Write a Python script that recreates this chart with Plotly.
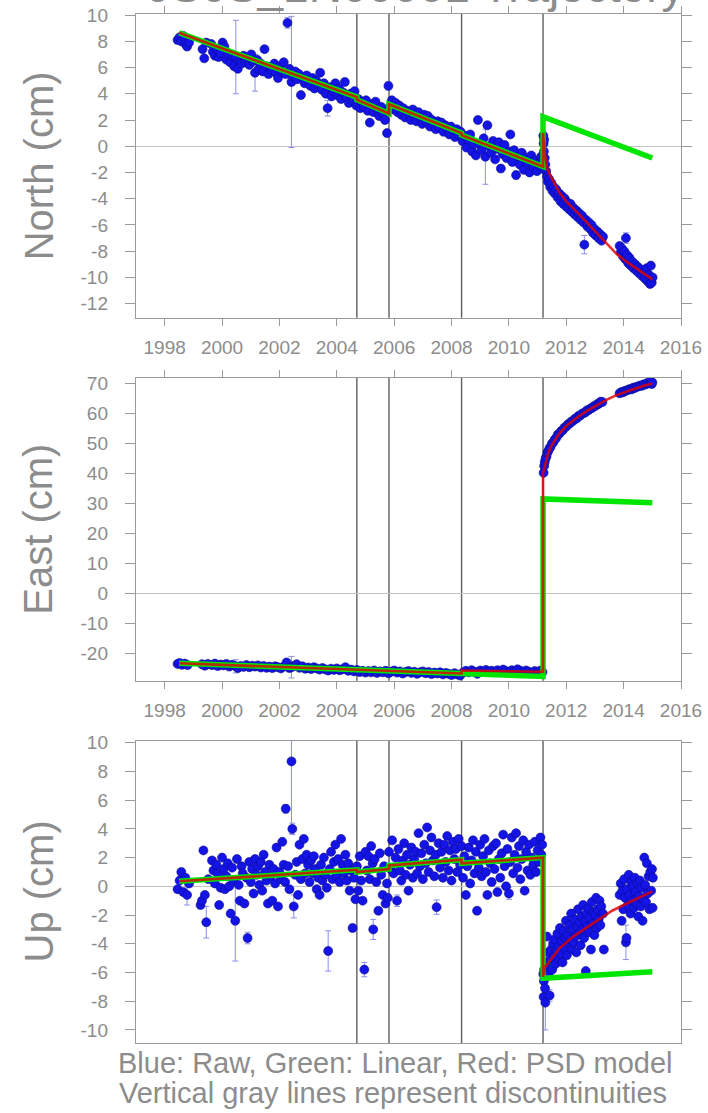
import plotly.graph_objects as go

# ---------------- data ----------------
years = [1998, 2000, 2002, 2004, 2006, 2008, 2010, 2012, 2014, 2016]
discontinuities = [2004.70, 2005.82, 2008.35, 2011.19]

north_obs = [
    (1998.45, 8.1), (1998.52, 8.3), (1998.58, 8.0), (1998.65, 8.4), (1998.72, 7.8), (1998.78, 7.6), (1998.85, 7.9),
    (1999.32, 7.4), (1999.38, 6.7), (1999.45, 7.9), (1999.62, 7.8), (1999.68, 7.2), (1999.75, 6.9), (1999.82, 7.4),
    (1999.88, 6.8), (1999.95, 7.1), (2000.02, 7.9), (2000.08, 7.6), (2000.15, 6.6), (2000.22, 7.0), (2000.28, 6.4),
    (2000.35, 6.9), (2000.42, 6.1), (2000.48, 6.8), (2000.55, 5.9), (2000.62, 6.5), (2000.68, 6.3), (2000.75, 6.9),
    (2000.82, 6.4), (2000.88, 6.7), (2000.95, 6.2), (2001.02, 7.0), (2001.08, 6.5), (2001.15, 5.6), (2001.22, 6.6),
    (2001.28, 5.9), (2001.35, 6.3), (2001.42, 5.7), (2001.48, 7.4), (2001.55, 6.1), (2001.62, 5.5), (2001.68, 6.0),
    (2001.75, 5.8), (2001.82, 6.3), (2001.88, 5.6), (2001.95, 5.2), (2002.02, 6.1), (2002.08, 5.7), (2002.15, 6.4),
    (2002.22, 5.5), (2002.28, 9.4), (2002.35, 5.9), (2002.42, 4.9), (2002.48, 5.3), (2002.55, 5.7), (2002.62, 5.1),
    (2002.68, 5.5), (2002.75, 3.9), (2002.82, 5.2), (2002.88, 4.8), (2002.95, 5.4), (2003.02, 4.9), (2003.08, 4.6),
    (2003.15, 5.2), (2003.22, 4.4), (2003.28, 5.0), (2003.35, 4.7), (2003.42, 5.6), (2003.48, 4.3), (2003.55, 4.8),
    (2003.62, 4.0), (2003.68, 2.9), (2003.75, 4.5), (2003.82, 3.8), (2003.88, 4.2), (2003.95, 4.8), (2004.02, 3.9),
    (2004.08, 4.4), (2004.15, 3.6), (2004.22, 4.1), (2004.28, 4.9), (2004.35, 3.7), (2004.42, 3.3), (2004.48, 4.0),
    (2004.55, 3.5), (2004.62, 4.2), (2004.68, 3.1), (2004.75, 3.6), (2004.82, 2.9), (2004.88, 3.4), (2004.95, 3.0),
    (2005.02, 3.5), (2005.08, 2.7), (2005.15, 1.8), (2005.22, 3.2), (2005.28, 2.6), (2005.35, 3.4), (2005.42, 2.8),
    (2005.48, 2.3), (2005.55, 3.0), (2005.62, 2.5), (2005.68, 2.0), (2005.75, 1.0), (2005.80, 4.6), (2005.85, 3.0),
    (2005.92, 3.5), (2005.98, 2.8), (2006.05, 3.3), (2006.12, 2.6), (2006.18, 3.1), (2006.25, 2.4), (2006.32, 2.9),
    (2006.38, 2.2), (2006.45, 2.7), (2006.52, 2.5), (2006.58, 2.0), (2006.65, 2.8), (2006.72, 2.3), (2006.78, 1.9),
    (2006.85, 2.6), (2006.92, 2.1), (2006.98, 1.7), (2007.05, 2.4), (2007.12, 1.9), (2007.18, 2.3), (2007.25, 1.5),
    (2007.32, 2.0), (2007.38, 1.7), (2007.45, 1.3), (2007.52, 1.9), (2007.58, 1.4), (2007.65, 1.8), (2007.72, 1.1),
    (2007.78, 1.6), (2007.85, 1.3), (2007.92, 0.9), (2007.98, 1.5), (2008.05, 1.2), (2008.12, 0.7), (2008.18, 1.3),
    (2008.25, 0.9), (2008.32, 1.1), (2008.38, 0.4), (2008.45, 0.8), (2008.52, -0.1), (2008.58, 0.5), (2008.65, 0.9),
    (2008.72, -0.4), (2008.78, 0.2), (2008.85, -0.7), (2008.92, 2.0), (2008.98, 0.1), (2009.05, -0.3), (2009.12, 0.6),
    (2009.18, -0.8), (2009.25, 1.6), (2009.32, 0.0), (2009.38, -0.5), (2009.45, 0.4), (2009.52, -1.0), (2009.58, -0.2),
    (2009.65, 0.3), (2009.72, -1.7), (2009.78, -0.6), (2009.85, 0.1), (2009.92, -0.9), (2009.98, -0.4), (2010.05, 0.9),
    (2010.12, -1.2), (2010.18, -0.3), (2010.25, -2.2), (2010.32, -0.8), (2010.38, -1.4), (2010.45, -0.5), (2010.52, -1.8),
    (2010.58, -0.9), (2010.65, -1.3), (2010.72, -2.0), (2010.78, -0.7), (2010.85, -1.6), (2010.92, -1.1), (2010.98, -1.9),
    (2011.05, -1.3), (2011.12, -0.8), (2011.17, -1.7),
    (2011.20, 0.8), (2011.21, 0.2), (2011.22, -0.4), (2011.23, 0.5), (2011.25, -0.9), (2011.27, -1.4), (2011.30, -1.9),
    (2011.33, -2.3), (2011.36, -2.7), (2011.40, -2.5), (2011.44, -3.1), (2011.48, -2.8), (2011.52, -3.4), (2011.56, -3.1),
    (2011.60, -3.6), (2011.65, -3.3), (2011.70, -3.9), (2011.75, -3.6), (2011.80, -4.2), (2011.85, -3.8), (2011.90, -4.4),
    (2011.95, -4.0), (2012.00, -4.6), (2012.05, -4.3), (2012.10, -4.8), (2012.15, -4.4), (2012.20, -5.0), (2012.25, -4.7),
    (2012.30, -5.2), (2012.35, -4.9), (2012.40, -5.4), (2012.45, -5.1), (2012.50, -5.6), (2012.55, -5.3), (2012.60, -5.8),
    (2012.63, -7.5), (2012.68, -5.6), (2012.73, -6.1), (2012.78, -5.8), (2012.83, -6.3), (2012.88, -6.0), (2012.93, -6.6),
    (2012.98, -6.3), (2013.03, -6.8), (2013.08, -6.5), (2013.13, -7.0), (2013.18, -6.7), (2013.23, -7.2), (2013.28, -6.9),
    (2013.86, -7.6), (2013.90, -8.1), (2013.94, -7.8), (2013.98, -8.4), (2014.02, -8.0), (2014.06, -8.6), (2014.08, -7.0),
    (2014.12, -8.3), (2014.16, -8.9), (2014.20, -8.5), (2014.25, -9.1), (2014.30, -8.8), (2014.35, -9.3), (2014.40, -9.0),
    (2014.45, -9.5), (2014.50, -9.2), (2014.55, -9.7), (2014.60, -9.4), (2014.65, -9.9), (2014.70, -9.6), (2014.75, -10.1),
    (2014.80, -9.3), (2014.84, -10.3), (2014.88, -9.8), (2014.92, -10.5), (2014.95, -9.1), (2014.98, -10.4), (2015.01, -10.0),
]
north_err = {2000.48: 2.8, 2001.15: 1.4, 2002.28: 0.4, 2002.42: 5.0, 2003.68: 0.6, 2005.80: 0.3,
             2009.18: 2.1, 2010.25: 0.3, 2012.63: 0.7, 2014.08: 0.4}
north_lin_t = [1998.5, 2004.70, 2004.70, 2005.82, 2005.82, 2008.35, 2008.35, 2011.19, 2011.19, 2015.0]
north_lin_v = [8.65, 3.75, 3.55, 2.50, 3.20, 1.00, 0.85, -1.55, 2.25, -0.90]
north_psd_t = [1998.5, 2004.70, 2004.70, 2005.82, 2005.82, 2008.35, 2008.35, 2011.19, 2011.19,
               2011.25, 2011.35, 2011.48, 2011.75, 2012.0, 2012.41, 2012.75, 2013.08, 2013.4, 2013.75,
               2014.1, 2014.41, 2014.7, 2015.0]
north_psd_v = [8.65, 3.75, 3.55, 2.50, 3.20, 1.00, 0.85, -1.55, 1.00,
               -0.5, -1.8, -2.4, -3.5, -4.2, -5.1, -5.9, -6.65, -7.4, -8.2,
               -8.8, -9.25, -9.7, -10.15]

east_obs = [
    (1998.45, -23.5), (1998.52, -23.2), (1998.60, -23.8), (1998.70, -23.4), (1998.80, -23.9), (1999.30, -23.6),
    (1999.40, -24.1), (1999.50, -23.5), (1999.65, -23.9), (1999.75, -23.4), (1999.85, -24.2), (1999.95, -23.7),
    (2000.05, -24.0), (2000.15, -23.5), (2000.25, -24.4), (2000.35, -23.8), (2000.48, -24.3), (2000.55, -24.9),
    (2000.65, -24.2), (2000.75, -24.5), (2000.85, -23.9), (2000.95, -24.6), (2001.05, -24.1), (2001.15, -24.4),
    (2001.25, -24.0), (2001.35, -24.7), (2001.45, -24.2), (2001.55, -24.8), (2001.65, -24.4), (2001.75, -24.9),
    (2001.85, -24.3), (2001.95, -24.6), (2002.05, -25.0), (2002.15, -24.4), (2002.25, -23.0), (2002.35, -24.9),
    (2002.42, -24.6), (2002.50, -24.2), (2002.60, -23.6), (2002.70, -24.8), (2002.80, -24.3), (2002.90, -25.1),
    (2003.00, -24.7), (2003.10, -25.2), (2003.20, -24.6), (2003.30, -25.0), (2003.40, -25.4), (2003.50, -24.9),
    (2003.60, -25.3), (2003.70, -25.7), (2003.80, -25.1), (2003.90, -25.5), (2004.00, -25.0), (2004.10, -25.6),
    (2004.20, -25.3), (2004.30, -24.6), (2004.40, -25.8), (2004.50, -25.4), (2004.60, -26.0), (2004.70, -25.5),
    (2004.80, -26.2), (2004.90, -25.8), (2005.00, -26.4), (2005.10, -25.9), (2005.20, -26.3), (2005.30, -25.7),
    (2005.40, -26.5), (2005.50, -26.0), (2005.60, -26.3), (2005.70, -25.8), (2005.80, -26.6), (2005.90, -26.1),
    (2006.00, -25.7), (2006.10, -26.4), (2006.20, -26.0), (2006.30, -26.7), (2006.40, -26.2), (2006.50, -25.9),
    (2006.60, -26.5), (2006.70, -26.1), (2006.80, -26.8), (2006.90, -26.3), (2007.00, -26.0), (2007.10, -26.6),
    (2007.20, -26.2), (2007.30, -26.9), (2007.40, -26.4), (2007.50, -26.7), (2007.60, -26.3), (2007.70, -27.0),
    (2007.80, -26.5), (2007.90, -26.8), (2008.00, -27.2), (2008.10, -26.6), (2008.20, -27.0), (2008.30, -27.4),
    (2008.40, -26.4), (2008.50, -25.8), (2008.60, -26.3), (2008.70, -25.6), (2008.80, -26.1), (2008.90, -26.8),
    (2009.00, -25.7), (2009.10, -26.2), (2009.20, -25.5), (2009.30, -26.0), (2009.40, -25.8), (2009.50, -26.3),
    (2009.60, -25.6), (2009.70, -26.1), (2009.80, -25.4), (2009.90, -25.9), (2010.00, -26.2), (2010.10, -25.6),
    (2010.20, -26.0), (2010.30, -25.3), (2010.40, -25.8), (2010.50, -26.3), (2010.60, -25.7), (2010.70, -26.1),
    (2010.80, -26.5), (2010.90, -25.9), (2011.00, -26.3), (2011.10, -25.7), (2011.17, -26.2),
    (2011.21, 40.2), (2011.23, 42.5), (2011.25, 43.8), (2011.28, 45.0), (2011.31, 45.6), (2011.34, 46.9),
    (2011.37, 47.4), (2011.41, 48.3), (2011.45, 48.8), (2011.50, 49.9), (2011.55, 50.4), (2011.60, 51.3),
    (2011.65, 51.8), (2011.70, 52.9), (2011.76, 53.2), (2011.82, 54.1), (2011.88, 54.4), (2011.94, 55.3),
    (2012.00, 55.6), (2012.06, 56.4), (2012.12, 56.6), (2012.18, 57.3), (2012.24, 57.5), (2012.30, 58.2),
    (2012.36, 58.3), (2012.42, 59.1), (2012.48, 59.2), (2012.54, 59.8), (2012.60, 60.1), (2012.66, 60.3),
    (2012.72, 61.0), (2012.78, 61.1), (2012.84, 61.6), (2012.90, 61.8), (2012.96, 62.4), (2013.02, 62.5),
    (2013.08, 63.1), (2013.14, 63.2), (2013.20, 63.9), (2013.26, 63.8),
    (2013.86, 66.7), (2013.92, 67.1), (2013.98, 67.0), (2014.04, 67.5), (2014.10, 67.6), (2014.16, 67.9),
    (2014.22, 68.1), (2014.28, 68.0), (2014.34, 68.6), (2014.40, 68.5), (2014.46, 68.9), (2014.52, 69.0),
    (2014.58, 69.3), (2014.64, 69.2), (2014.70, 69.7), (2014.76, 69.6), (2014.82, 70.1), (2014.88, 70.0),
    (2014.94, 70.6), (2014.98, 69.8), (2015.00, 70.3),
]
east_err = {2000.48: 2.2, 2002.42: 3.6}
east_lin_t = [1998.5, 2004.70, 2004.70, 2005.82, 2005.82, 2008.35, 2008.35, 2011.19, 2011.19, 2015.0]
east_lin_v = [-23.3, -25.4, -25.6, -26.0, -25.9, -26.7, -26.9, -27.7, 31.5, 30.2]
east_psd_t = [1998.5, 2004.70, 2004.70, 2005.82, 2005.82, 2008.35, 2008.35, 2011.19, 2011.19,
              2011.25, 2011.36, 2011.48, 2011.75, 2012.0, 2012.41, 2012.75, 2013.08, 2013.4, 2013.75,
              2014.1, 2014.41, 2014.7, 2015.0]
east_psd_v = [-23.3, -25.4, -25.6, -26.0, -25.9, -26.7, -25.7, -26.1, 40.0,
              42.5, 46.5, 49.2, 53.2, 55.8, 58.9, 61.0, 62.8, 64.5, 66.1,
              67.4, 68.3, 69.2, 70.0]

up_obs = [
    (1998.45, -0.2), (1998.52, 0.4), (1998.58, 1.0), (1998.65, -0.4), (1998.72, 0.6), (1998.78, -0.6), (1998.85, 0.2),
    (1999.25, -1.3), (1999.30, -1.0), (1999.35, 2.5), (1999.40, -0.6), (1999.45, -2.5), (1999.52, 0.5),
    (1999.65, 1.8), (1999.70, 1.1), (1999.75, 0.2), (1999.80, 1.5), (1999.85, 0.9), (1999.90, -1.3), (1999.95, -0.1),
    (2000.00, 2.0), (2000.05, 1.2), (2000.10, -0.2), (2000.15, 0.7), (2000.20, 1.6), (2000.25, 0.0), (2000.30, -1.9),
    (2000.35, 1.3), (2000.40, 0.4), (2000.46, -2.4), (2000.52, 1.9), (2000.58, 0.1), (2000.62, -1.0), (2000.68, 1.4),
    (2000.72, 0.9), (2000.78, -1.2), (2000.85, 0.6), (2000.89, -3.6), (2000.95, 1.7), (2001.00, 0.3), (2001.05, 1.2),
    (2001.10, -0.5), (2001.15, 1.9), (2001.20, 0.8), (2001.25, 1.4), (2001.30, 0.1), (2001.35, 1.7), (2001.40, -0.3),
    (2001.45, 2.2), (2001.50, 1.0), (2001.55, 0.4), (2001.60, -1.2), (2001.65, 1.5), (2001.70, 0.7), (2001.75, -1.0),
    (2001.80, 1.2), (2001.85, 0.2), (2001.90, 2.7), (2001.95, -1.4), (2002.00, 1.0), (2002.05, 0.5), (2002.10, 3.1),
    (2002.15, 1.5), (2002.20, 0.3), (2002.22, 5.4), (2002.30, 1.4), (2002.35, -0.2), (2002.42, 8.7), (2002.45, 4.0),
    (2002.50, -1.4), (2002.55, 0.8), (2002.60, 1.7), (2002.65, -0.6), (2002.70, 2.9), (2002.75, 0.5), (2002.80, 1.9),
    (2002.85, 3.3), (2002.90, 0.9), (2002.95, 2.2), (2003.00, 1.5), (2003.05, 0.3), (2003.10, 1.8), (2003.15, 0.9),
    (2003.20, 2.1), (2003.25, 1.2), (2003.30, -0.2), (2003.35, 0.6), (2003.40, -0.6), (2003.45, 1.5), (2003.50, 0.4),
    (2003.55, 2.0), (2003.60, 0.8), (2003.65, -0.1), (2003.70, -4.5), (2003.75, 1.2), (2003.80, 2.4), (2003.85, 0.5),
    (2003.90, 1.7), (2003.95, 2.9), (2004.00, 0.7), (2004.05, 1.9), (2004.10, 0.3), (2004.15, 3.3), (2004.20, 1.5),
    (2004.25, 0.9), (2004.30, 2.2), (2004.35, 0.4), (2004.40, 1.6), (2004.45, -0.3), (2004.50, 1.1), (2004.55, -2.9),
    (2004.60, 0.6), (2004.65, -0.9), (2004.70, 1.4), (2004.75, -0.3), (2004.80, 2.1), (2004.85, 0.4), (2004.90, -1.0),
    (2004.96, -5.8), (2005.00, 2.4), (2005.05, 1.1), (2005.10, 2.1), (2005.15, 0.5), (2005.20, 2.8), (2005.25, 1.6),
    (2005.27, -3.0), (2005.32, 1.9), (2005.38, 0.3), (2005.45, -1.7), (2005.50, 2.3), (2005.55, 0.8), (2005.60, -0.6),
    (2005.65, 1.4), (2005.70, -1.2), (2005.75, 0.2), (2005.78, -0.8), (2005.82, 2.4), (2005.88, 1.2), (2005.93, 3.2),
    (2005.98, 0.9), (2006.05, 2.0), (2006.10, -1.0), (2006.15, 2.6), (2006.20, 1.1), (2006.25, 0.4), (2006.30, 1.8),
    (2006.35, 3.0), (2006.40, 0.8), (2006.45, 2.2), (2006.50, -0.3), (2006.55, 1.5), (2006.60, 2.7), (2006.65, 0.6),
    (2006.70, 1.9), (2006.75, 2.4), (2006.80, 0.9), (2006.85, 3.7), (2006.90, 1.4), (2006.95, 2.3), (2007.00, 0.5),
    (2007.05, 2.9), (2007.10, 1.6), (2007.15, 4.1), (2007.20, 1.0), (2007.25, 2.5), (2007.30, 3.4), (2007.35, 1.8),
    (2007.40, 0.7), (2007.45, 2.2), (2007.48, -1.45), (2007.55, 3.0), (2007.60, 1.3), (2007.65, 2.4), (2007.70, 0.6),
    (2007.75, 2.9), (2007.80, 1.7), (2007.85, 3.5), (2007.90, 1.1), (2007.95, 2.5), (2008.00, 0.4), (2008.05, 3.1),
    (2008.10, 1.9), (2008.15, 2.6), (2008.20, 1.0), (2008.25, 3.3), (2008.30, 1.5), (2008.35, 2.8), (2008.40, 0.6),
    (2008.45, 2.1), (2008.50, -0.6), (2008.55, 1.4), (2008.60, 2.7), (2008.65, 0.2), (2008.70, 1.8), (2008.75, 3.2),
    (2008.80, 0.9), (2008.85, 2.4), (2008.89, -1.7), (2008.95, 1.3), (2009.00, 2.9), (2009.05, 0.7), (2009.10, 2.1),
    (2009.15, 3.3), (2009.20, 1.0), (2009.25, -0.6), (2009.30, 2.5), (2009.35, 1.6), (2009.40, 0.3), (2009.45, 2.8),
    (2009.50, 1.2), (2009.55, 3.0), (2009.60, -0.4), (2009.65, 1.9), (2009.70, 0.6), (2009.75, 2.3), (2009.80, 3.6),
    (2009.85, 1.4), (2009.90, 0.0), (2009.95, 2.6), (2010.00, -0.5), (2010.05, 1.7), (2010.10, 3.4), (2010.15, 0.9),
    (2010.20, 2.2), (2010.25, 3.7), (2010.30, 1.3), (2010.35, 2.8), (2010.40, 0.5), (2010.45, 1.9), (2010.50, 3.2),
    (2010.55, -0.3), (2010.60, 2.4), (2010.65, 1.1), (2010.70, 2.9), (2010.75, 0.8), (2010.80, 2.0), (2010.85, 1.5),
    (2010.90, 3.1), (2010.95, 1.0), (2011.00, 2.5), (2011.05, 1.7), (2011.10, 3.4), (2011.13, 2.2), (2011.16, 2.9),
    (2011.20, -6.1), (2011.21, -7.7), (2011.22, -6.6), (2011.23, -5.8), (2011.24, -6.3), (2011.26, -7.1), (2011.27, -8.1),
    (2011.29, -5.3), (2011.31, -6.0), (2011.33, -3.5), (2011.35, -5.7), (2011.37, -4.6), (2011.39, -6.2), (2011.42, -7.6),
    (2011.45, -5.1), (2011.48, -4.4), (2011.51, -5.8), (2011.54, -4.0), (2011.57, -4.9), (2011.60, -3.7), (2011.63, -5.4),
    (2011.66, -4.5), (2011.69, -3.3), (2011.72, -5.0), (2011.75, -4.2), (2011.78, -2.9), (2011.81, -4.7), (2011.84, -3.8),
    (2011.87, -5.3), (2011.90, -3.1), (2011.93, -4.3), (2011.96, -3.6), (2011.99, -2.4), (2012.02, -4.8), (2012.05, -3.4),
    (2012.08, -4.0), (2012.11, -2.7), (2012.14, -3.7), (2012.17, -1.9), (2012.20, -4.4), (2012.23, -3.0), (2012.26, -3.9),
    (2012.29, -2.3), (2012.32, -3.5), (2012.35, -4.6), (2012.38, -2.8), (2012.41, -1.6), (2012.44, -3.3), (2012.47, -2.5),
    (2012.50, -4.1), (2012.53, -2.1), (2012.56, -3.0), (2012.59, -1.3), (2012.62, -3.6), (2012.65, -2.4), (2012.68, -5.9),
    (2012.71, -1.9), (2012.74, -2.8), (2012.77, -1.5), (2012.80, -3.2), (2012.83, -2.2), (2012.86, -4.4), (2012.89, -1.1),
    (2012.92, -2.6), (2012.95, -1.8), (2012.98, -3.4), (2013.01, -2.0), (2013.04, -0.8), (2013.07, -2.9), (2013.10, -1.6),
    (2013.13, -2.3), (2013.16, -1.0), (2013.19, -2.7), (2013.22, -1.4), (2013.28, -1.9), (2013.31, -4.4),
    (2013.86, -0.6), (2013.90, 0.2), (2013.93, -2.4), (2013.96, -0.3), (2013.99, -1.6), (2014.02, 0.5), (2014.05, -0.8),
    (2014.08, -3.9), (2014.10, -3.6), (2014.12, -0.2), (2014.15, -1.3), (2014.18, 0.8), (2014.21, -0.6), (2014.24, -1.9),
    (2014.27, 0.3), (2014.30, -1.0), (2014.33, 0.0), (2014.36, -1.5), (2014.39, 0.6), (2014.42, -0.4), (2014.45, -1.2),
    (2014.48, 0.2), (2014.51, -2.1), (2014.54, -0.7), (2014.57, 0.4), (2014.60, -1.4), (2014.63, -0.1), (2014.66, -2.4),
    (2014.69, -0.9), (2014.72, 2.0), (2014.75, 0.1), (2014.78, -1.1), (2014.81, 1.6), (2014.84, -0.5), (2014.87, 0.7),
    (2014.90, -1.6), (2014.93, 1.0), (2014.96, -0.3), (2014.99, 1.2), (2015.01, -1.5), (2015.02, 0.6),
]
up_err = {1998.78: 0.7, 1999.45: 1.1, 2000.46: 2.8, 2000.89: 0.4, 2002.22: 0.3, 2002.42: 5.0, 2002.45: 0.4,
          2002.50: 0.8, 2003.70: 1.4, 2004.96: 0.5, 2005.27: 0.7, 2006.10: 0.4, 2007.48: 0.5, 2010.00: 0.4,
          2011.27: 1.9, 2011.42: 0.4, 2014.08: 1.2, 2014.33: 0.6}
up_lin_t = [1998.5, 2004.70, 2004.70, 2005.82, 2005.82, 2008.35, 2008.35, 2011.19, 2011.19, 2015.0]
up_lin_v = [0.35, 1.15, 1.0, 1.2, 1.45, 1.85, 1.6, 2.0, -6.4, -5.95]
up_psd_t = [1998.5, 2004.70, 2004.70, 2005.82, 2005.82, 2008.35, 2008.35, 2011.19, 2011.19,
            2011.27, 2011.5, 2011.77, 2012.24, 2012.7, 2013.17, 2013.6, 2014.0, 2014.5, 2015.0]
up_psd_v = [0.35, 1.15, 1.0, 1.2, 1.45, 1.85, 1.6, 2.0, -6.3,
            -5.6, -5.0, -4.3, -3.5, -2.9, -2.3, -1.7, -1.3, -0.8, -0.35]

panels = [
    ("North (cm)", north_obs, north_err, north_lin_t, north_lin_v, north_psd_t, north_psd_v,
     [-13.07, 10.08], list(range(10, -13, -2))),
    ("East (cm)", east_obs, east_err, east_lin_t, east_lin_v, east_psd_t, east_psd_v,
     [-29.1, 71.9], list(range(70, -21, -10))),
    ("Up (cm)", up_obs, up_err, up_lin_t, up_lin_v, up_psd_t, up_psd_v,
     [-10.93, 10.14], list(range(10, -11, -2))),
]

# ---------------- layout geometry (pixels) ----------------
W, H = 708, 1113
X0, X1 = 136, 681
panel_px = [(14, 317.7), (377.7, 680.7), (740.7, 1043.3)]

GRAY_TXT = "#8c8c8c"
BOX = "#9a9a9a"
FONT = "Liberation Sans, Arial, sans-serif"

fig = go.Figure()
layout = dict(width=W, height=H, autosize=False, margin=dict(l=0, r=0, t=0, b=0, pad=0),
              paper_bgcolor="white", plot_bgcolor="white", showlegend=False,
              font=dict(family=FONT, color=GRAY_TXT))
shapes = []
annotations = []

for i, (label, obs, err, lt, lv, pt, pv, yr, yt) in enumerate(panels):
    n = i + 1
    xa = "x" if n == 1 else f"x{n}"
    ya = "y" if n == 1 else f"y{n}"
    top, bot = panel_px[i]
    t = [p[0] for p in obs]
    v = [p[1] for p in obs]
    e = [err.get(p[0], 0) for p in obs]

    fig.add_trace(go.Scatter(
        x=t, y=v, mode="markers", xaxis=xa, yaxis=ya,
        marker=dict(size=9, color="#1414e6", line=dict(width=0.6, color="#0a0a8c")),
        error_y=dict(type="data", array=e, color="#8c8cf0", thickness=1, width=3),
        cliponaxis=True))
    fig.add_trace(go.Scatter(x=lt, y=lv, mode="lines", xaxis=xa, yaxis=ya,
                             line=dict(color="#00e600", width=5.5)))
    fig.add_trace(go.Scatter(x=pt, y=pv, mode="lines", xaxis=xa, yaxis=ya,
                             line=dict(color="rgba(225,0,0,0.82)", width=2.6)))

    xkey = "xaxis" if n == 1 else f"xaxis{n}"
    ykey = "yaxis" if n == 1 else f"yaxis{n}"
    xdict = dict(domain=[X0 / W, X1 / W], anchor=ya, range=[1997, 2016], automargin=False,
                 tickvals=years, ticktext=[str(y) for y in years],
                 showline=True, linecolor=BOX, linewidth=1.4, showgrid=False, zeroline=False,
                 tickfont=dict(size=19, color=GRAY_TXT, family=FONT))
    if n < 3:
        xdict.update(ticks="outside", ticklen=7, tickcolor=BOX, tickwidth=1.2, mirror="ticks",
                     showticklabels=True, ticklabelstandoff=5)
    else:
        xdict.update(ticks="", mirror=True, showticklabels=False)
    layout[xkey] = xdict
    layout[ykey] = dict(domain=[1 - bot / H, 1 - top / H], anchor=xa, range=yr, automargin=False,
                        tickvals=yt, ticktext=[str(y) for y in yt],
                        ticks="outside", ticklen=10, tickcolor=BOX, tickwidth=1.2,
                        showline=True, linecolor=BOX, linewidth=1.4, mirror="ticks",
                        showgrid=False, zeroline=True, zerolinecolor="#c4c4c4", zerolinewidth=1.2,
                        ticklabelstandoff=13,
                        tickfont=dict(size=19, color=GRAY_TXT, family=FONT))
    for d in discontinuities:
        shapes.append(dict(type="line", xref=xa, yref=f"{ya} domain", x0=d, x1=d, y0=0, y1=1,
                           line=dict(color="#5e5e5e", width=1.4), layer="below"))
    annotations.append(dict(text=label, textangle=-90, xref="paper", yref="paper",
                            x=38.5 / W, y=1 - (top + bot) / 2 / H, xanchor="center", yanchor="middle",
                            showarrow=False, font=dict(size=40, color=GRAY_TXT, family=FONT)))

annotations.append(dict(text="Blue: Raw, Green: Linear, Red: PSD model", xref="paper", yref="paper",
                        x=395 / W, y=1 - 1063 / H, xanchor="center", yanchor="middle", showarrow=False,
                        font=dict(size=29, color=GRAY_TXT, family=FONT)))
annotations.append(dict(text="Vertical gray lines represent discontinuities", xref="paper", yref="paper",
                        x=393 / W, y=1 - 1093 / H, xanchor="center", yanchor="middle", showarrow=False,
                        font=dict(size=29, color=GRAY_TXT, family=FONT)))
annotations.append(dict(text="0S0S_1N00001 Trajectory", xref="paper", yref="paper",
                        x=415 / W, y=1 + 14 / H, xanchor="center", yanchor="middle", showarrow=False,
                        font=dict(size=46, color=GRAY_TXT, family=FONT)))

layout["shapes"] = shapes
layout["annotations"] = annotations
fig.update_layout(**layout)

reset_page = ("var s=document.createElement('style');"
              "s.textContent='html,body{margin:0!important;padding:0!important;overflow:hidden!important;}';"
              "document.head.appendChild(s);")
fig.write_html("out.html", config={"responsive": False}, post_script=reset_page)
